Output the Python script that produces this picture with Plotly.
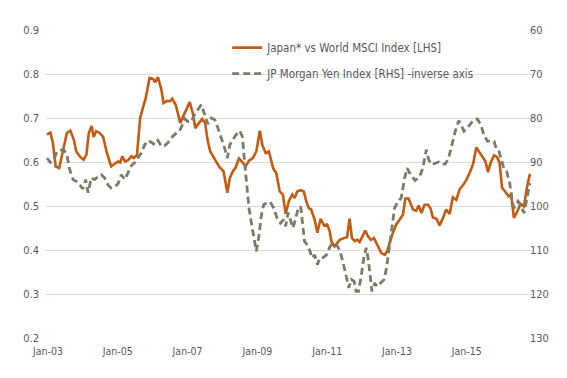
import plotly.graph_objects as go

# Japan* vs World MSCI Index (LHS) — x in decimal years
japan_t = [2002.97, 2003.07, 2003.14, 2003.22, 2003.32, 2003.43, 2003.54, 2003.64, 2003.74, 2003.81,
           2003.93, 2004.02, 2004.10, 2004.17, 2004.25, 2004.31, 2004.38, 2004.48, 2004.58, 2004.69,
           2004.81, 2004.91, 2005.01, 2005.07, 2005.13, 2005.21, 2005.29, 2005.39, 2005.46, 2005.55,
           2005.64, 2005.72, 2005.80, 2005.91, 2006.01, 2006.07, 2006.15, 2006.25, 2006.31, 2006.41,
           2006.49, 2006.56, 2006.66, 2006.79, 2006.89, 2006.98, 2007.06, 2007.15, 2007.22, 2007.33,
           2007.42, 2007.50, 2007.58, 2007.65, 2007.78, 2007.90, 2008.03, 2008.14, 2008.21, 2008.30,
           2008.38, 2008.47, 2008.57, 2008.66, 2008.76, 2008.87, 2008.97, 2009.07, 2009.14, 2009.24,
           2009.33, 2009.37, 2009.45, 2009.54, 2009.64, 2009.73, 2009.81, 2009.90, 2010.00, 2010.07,
           2010.14, 2010.24, 2010.33, 2010.40, 2010.47, 2010.54, 2010.64, 2010.72, 2010.81, 2010.91,
           2011.00, 2011.07, 2011.12, 2011.21, 2011.29, 2011.36, 2011.48, 2011.57, 2011.64, 2011.71,
           2011.79, 2011.86, 2011.93, 2012.00, 2012.09, 2012.17, 2012.25, 2012.34, 2012.43, 2012.55,
           2012.65, 2012.72, 2012.79, 2012.88, 2012.98, 2013.08, 2013.17, 2013.24, 2013.33, 2013.46,
           2013.55, 2013.62, 2013.70, 2013.79, 2013.89, 2013.96, 2014.03, 2014.13, 2014.22, 2014.32,
           2014.41, 2014.51, 2014.60, 2014.70, 2014.80, 2014.89, 2014.98, 2015.08, 2015.18, 2015.27,
           2015.37, 2015.46, 2015.53, 2015.61, 2015.68, 2015.78, 2015.87, 2015.94, 2016.01, 2016.10,
           2016.20, 2016.27, 2016.35, 2016.45, 2016.54, 2016.64, 2016.72, 2016.81]
japan_v = [0.662, 0.667, 0.643, 0.590, 0.586, 0.628, 0.666, 0.671, 0.651, 0.624,
           0.611, 0.605, 0.617, 0.666, 0.682, 0.657, 0.670, 0.666, 0.657, 0.620,
           0.590, 0.596, 0.601, 0.599, 0.613, 0.601, 0.604, 0.613, 0.609, 0.616,
           0.700, 0.723, 0.745, 0.791, 0.789, 0.781, 0.793, 0.764, 0.734, 0.739,
           0.738, 0.744, 0.730, 0.689, 0.708, 0.721, 0.736, 0.711, 0.677, 0.689,
           0.698, 0.689, 0.647, 0.624, 0.605, 0.590, 0.579, 0.530, 0.564, 0.579,
           0.588, 0.608, 0.600, 0.590, 0.603, 0.609, 0.624, 0.671, 0.639, 0.620,
           0.624, 0.613, 0.586, 0.575, 0.533, 0.526, 0.482, 0.511, 0.526, 0.518,
           0.533, 0.536, 0.533, 0.511, 0.495, 0.492, 0.469, 0.439, 0.471, 0.456,
           0.458, 0.443, 0.420, 0.408, 0.416, 0.423, 0.427, 0.429, 0.471, 0.427,
           0.420, 0.423, 0.418, 0.431, 0.444, 0.431, 0.423, 0.427, 0.412, 0.393,
           0.389, 0.397, 0.416, 0.439, 0.458, 0.471, 0.480, 0.517, 0.517, 0.492,
           0.489, 0.501, 0.484, 0.503, 0.503, 0.495, 0.474, 0.471, 0.456, 0.473,
           0.492, 0.482, 0.520, 0.514, 0.539, 0.547, 0.558, 0.575, 0.595, 0.633,
           0.620, 0.611, 0.602, 0.577, 0.598, 0.615, 0.611, 0.598, 0.541, 0.533,
           0.522, 0.526, 0.473, 0.488, 0.505, 0.499, 0.541, 0.573]

# JP Morgan Yen Index (RHS, inverse axis)
yen_t = [2002.97, 2003.07, 2003.16, 2003.24, 2003.32, 2003.45, 2003.54, 2003.62, 2003.72, 2003.81,
         2003.93, 2004.00, 2004.08, 2004.15, 2004.24, 2004.34, 2004.43, 2004.53, 2004.62, 2004.72,
         2004.81, 2004.91, 2005.01, 2005.10, 2005.20, 2005.29, 2005.39, 2005.48, 2005.58, 2005.67,
         2005.77, 2005.87, 2005.96, 2006.06, 2006.15, 2006.25, 2006.34, 2006.44, 2006.53, 2006.68,
         2006.77, 2006.85, 2006.92, 2007.01, 2007.11, 2007.20, 2007.30, 2007.39, 2007.49, 2007.58,
         2007.68, 2007.78, 2007.87, 2007.97, 2008.06, 2008.14, 2008.21, 2008.30, 2008.39, 2008.49,
         2008.57, 2008.64, 2008.70, 2008.76, 2008.82, 2008.89, 2008.97, 2009.05, 2009.11, 2009.18,
         2009.27, 2009.37, 2009.47, 2009.56, 2009.66, 2009.75, 2009.81, 2009.88, 2009.96, 2010.02,
         2010.09, 2010.16, 2010.24, 2010.30, 2010.35, 2010.43, 2010.51, 2010.56, 2010.64, 2010.72,
         2010.79, 2010.89, 2010.98, 2011.08, 2011.17, 2011.27, 2011.37, 2011.46, 2011.55, 2011.62,
         2011.69, 2011.77, 2011.83, 2011.90, 2011.98, 2012.05, 2012.12, 2012.17, 2012.23, 2012.28,
         2012.36, 2012.43, 2012.53, 2012.63, 2012.70, 2012.78, 2012.86, 2012.93, 2013.03, 2013.12,
         2013.22, 2013.29, 2013.39, 2013.52, 2013.65, 2013.74, 2013.84, 2013.91, 2014.00, 2014.10,
         2014.19, 2014.29, 2014.38, 2014.48, 2014.57, 2014.67, 2014.77, 2014.84, 2014.92, 2015.01,
         2015.11, 2015.20, 2015.30, 2015.40, 2015.49, 2015.59, 2015.68, 2015.78, 2015.84, 2015.91,
         2015.99, 2016.06, 2016.14, 2016.23, 2016.29, 2016.35, 2016.47, 2016.56, 2016.64, 2016.71,
         2016.81]
yen_v = [89.1, 90.1, 89.5, 88.0, 87.3, 87.2, 88.3, 91.7, 94.0, 94.4,
         95.4, 96.1, 94.0, 97.0, 93.6, 94.0, 93.3, 92.9, 93.6, 95.2,
         95.9, 95.7, 94.9, 92.9, 94.0, 92.3, 90.8, 90.2, 89.1, 88.0,
         86.1, 85.1, 85.5, 86.1, 85.1, 86.4, 86.3, 85.6, 84.5, 83.4,
         83.0, 81.5, 80.2, 80.8, 80.8, 79.2, 77.9, 77.0, 79.2, 81.4,
         80.0, 80.4, 82.3, 84.5, 86.8, 89.1, 86.1, 84.9, 83.8, 82.9,
         84.2, 90.6, 95.9, 100.5, 103.5, 106.5, 110.3, 106.5, 102.3, 99.7,
         99.3, 99.1, 100.5, 102.7, 103.9, 103.1, 104.6, 101.5, 103.5, 105.0,
         103.1, 100.8, 100.1, 103.9, 108.0, 108.9, 110.3, 111.8, 111.1, 113.3,
         111.8, 111.7, 111.1, 109.2, 108.4, 108.8, 110.3, 113.0, 116.0, 118.6,
         116.7, 117.1, 119.4, 119.4, 115.6, 111.8, 109.5, 111.8, 115.6, 119.4,
         117.5, 118.3, 117.5, 116.7, 114.1, 109.5, 105.0, 100.5, 98.9, 98.2,
         93.6, 91.4, 92.9, 94.2, 93.3, 91.4, 87.2, 89.5, 90.6, 90.2,
         90.0, 90.5, 90.5, 89.1, 86.1, 83.0, 80.6, 81.9, 83.0, 82.3,
         81.4, 80.4, 80.2, 81.5, 83.8, 85.3, 85.2, 85.3, 86.8, 87.2,
         89.5, 91.4, 92.1, 94.8, 98.2, 100.5, 98.9, 100.1, 101.6, 98.9,
         94.8]

tick_years = [2003, 2005, 2007, 2009, 2011, 2013, 2015]
tick_labels = ["Jan-03", "Jan-05", "Jan-07", "Jan-09", "Jan-11", "Jan-13", "Jan-15"]
lhs_ticks = [0.2, 0.3, 0.4, 0.5, 0.6, 0.7, 0.8, 0.9]
rhs_ticks = [60, 70, 80, 90, 100, 110, 120, 130]

FONT = "Liberation Sans Narrow, DejaVu Sans Condensed, Arial Narrow, sans-serif"
TXT = "#595959"

fig = go.Figure()
fig.add_trace(go.Scatter(
    x=japan_t, y=japan_v, mode="lines", name="Japan* vs World MSCI Index [LHS]",
    line=dict(color="#C55A11", width=2.6), legendgroup="a"))
fig.add_trace(go.Scatter(
    x=yen_t, y=yen_v, mode="lines", name="JP Morgan Yen Index [RHS] -inverse axis",
    line=dict(color="#7A7B68", width=2.8, dash="7px,4px"), yaxis="y2", legendgroup="b"))

fig.update_layout(
    width=567, height=378,
    margin=dict(l=38, r=42, t=22, b=48),
    paper_bgcolor="white", plot_bgcolor="white",
    font=dict(family=FONT, size=11, color=TXT),
    showlegend=True,
    legend=dict(x=0.372, y=0.99, xanchor="left", yanchor="top",
                bgcolor="rgba(0,0,0,0)", font=dict(family=FONT, size=11.5, color=TXT),
                tracegroupgap=7, traceorder="grouped"),
    xaxis=dict(range=[2002.943, 2016.897], tickvals=tick_years, ticktext=tick_labels,
               showgrid=False, zeroline=False, showline=False, ticks="",
               ticklabelstandoff=5, tickfont=dict(family=FONT, size=10.5, color=TXT)),
    yaxis=dict(range=[0.2, 0.9], tickvals=lhs_ticks, tickformat=".1f",
               showgrid=True, gridcolor="#D9D9D9", gridwidth=1, zeroline=False,
               showline=False, ticks="", ticklabelstandoff=6,
               tickfont=dict(family=FONT, size=11, color=TXT)),
    yaxis2=dict(range=[130, 60], tickvals=rhs_ticks, overlaying="y", side="right",
                showgrid=False, zeroline=False, showline=False, ticks="",
                ticklabelstandoff=-4, tickfont=dict(family=FONT, size=11, color=TXT)),
)

fig.write_html("out.html")
